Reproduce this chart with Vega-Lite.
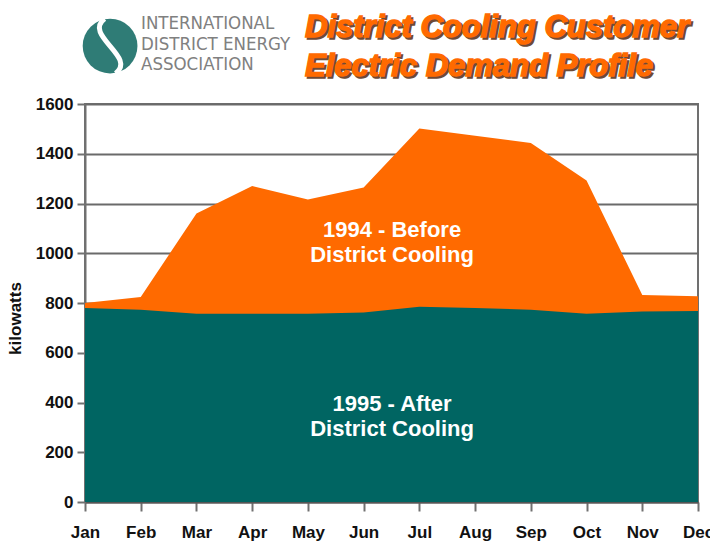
{
  "$schema": "https://vega.github.io/schema/vega-lite/v6.json",
  "width": 613,
  "height": 398,
  "autosize": {"type": "none"},
  "padding": {"left": 85, "top": 104, "right": 12, "bottom": 53},
  "background": "white",
  "config": {
    "font": "Liberation Sans",
    "view": {"stroke": "#707070", "strokeWidth": 2}
  },
  "datasets": {
    "demand": [
      {"month": 1, "y1994": 800, "y1995": 780},
      {"month": 2, "y1994": 824, "y1995": 773},
      {"month": 3, "y1994": 1160, "y1995": 757},
      {"month": 4, "y1994": 1270, "y1995": 757},
      {"month": 5, "y1994": 1216, "y1995": 757},
      {"month": 6, "y1994": 1264, "y1995": 762},
      {"month": 7, "y1994": 1502, "y1995": 785},
      {"month": 8, "y1994": 1472, "y1995": 780},
      {"month": 9, "y1994": 1443, "y1995": 773},
      {"month": 10, "y1994": 1292, "y1995": 757},
      {"month": 11, "y1994": 832, "y1995": 766},
      {"month": 12, "y1994": 827, "y1995": 768}
    ],
    "seriesLabels": [
      {"m": 6.51, "kW": 1065, "t": "1994 - Before"},
      {"m": 6.51, "kW": 965, "t": "District Cooling"},
      {"m": 6.51, "kW": 366, "t": "1995 - After"},
      {"m": 6.51, "kW": 265, "t": "District Cooling"}
    ],
    "heading": [
      {"m": 4.948, "kW": 1869, "t": "District Cooling Customer"},
      {"m": 4.948, "kW": 1713, "t": "Electric Demand Profile"}
    ],
    "association": [
      {"m": 2.005, "kW": 1926, "t": "INTERNATIONAL"},
      {"m": 2.005, "kW": 1841, "t": "DISTRICT ENERGY"},
      {"m": 2.005, "kW": 1761, "t": "ASSOCIATION"}
    ],
    "emblem": [{"m": 1.45, "kW": 1833}]
  },
  "layer": [
    {
      "data": {"name": "demand"},
      "mark": {"type": "area", "color": "#FF6A00", "interpolate": "linear"},
      "encoding": {
        "x": {
          "field": "month",
          "type": "quantitative",
          "scale": {"domain": [1, 12], "nice": false, "zero": false},
          "axis": {
            "title": null,
            "values": [1, 2, 3, 4, 5, 6, 7, 8, 9, 10, 11, 12],
            "labelExpr": "['Jan','Feb','Mar','Apr','May','Jun','Jul','Aug','Sep','Oct','Nov','Dec'][datum.value - 1]",
            "grid": false,
            "domainColor": "#555555",
            "domainWidth": 2,
            "tickColor": "#707070",
            "tickWidth": 2,
            "tickSize": 9,
            "labelFont": "Liberation Sans",
            "labelFontWeight": "bold",
            "labelFontSize": 17,
            "labelColor": "#111111",
            "labelPadding": 13,
            "labelFlush": false,
            "labelOverlap": false
          }
        },
        "y": {
          "field": "y1994",
          "type": "quantitative",
          "stack": null,
          "scale": {"domain": [0, 1600], "nice": false},
          "axis": {
            "title": "kilowatts",
            "titleFont": "Liberation Sans",
            "titleFontWeight": "bold",
            "titleFontSize": 17,
            "titleColor": "#111111",
            "titleAngle": 270,
            "titleX": -70,
            "titleY": 214,
            "titleAlign": "center",
            "titleBaseline": "middle",
            "values": [0, 200, 400, 600, 800, 1000, 1200, 1400, 1600],
            "format": "d",
            "grid": true,
            "gridColor": "#6a6a6a",
            "gridWidth": 2,
            "domainColor": "#707070",
            "domainWidth": 2,
            "tickColor": "#707070",
            "tickWidth": 2,
            "tickSize": 8,
            "labelFont": "Liberation Sans",
            "labelFontWeight": "bold",
            "labelFontSize": 17,
            "labelColor": "#111111",
            "labelPadding": 4
          }
        }
      }
    },
    {
      "data": {"name": "demand"},
      "mark": {"type": "area", "color": "#006562", "interpolate": "linear"},
      "encoding": {
        "x": {"field": "month", "type": "quantitative"},
        "y": {"field": "y1995", "type": "quantitative", "stack": null}
      }
    },
    {
      "data": {"name": "seriesLabels"},
      "mark": {"type": "text", "color": "white", "fontSize": 22, "fontWeight": "bold", "align": "center", "baseline": "alphabetic"},
      "encoding": {
        "x": {"field": "m", "type": "quantitative"},
        "y": {"field": "kW", "type": "quantitative"},
        "text": {"field": "t"}
      }
    },
    {
      "data": {"name": "heading"},
      "mark": {"type": "text", "color": "#6e4a36", "stroke": "#6e4a36", "strokeWidth": 1.6, "fontSize": 31, "fontWeight": "bold", "fontStyle": "italic", "align": "left", "baseline": "alphabetic", "dx": 2, "dy": 2},
      "encoding": {
        "x": {"field": "m", "type": "quantitative"},
        "y": {"field": "kW", "type": "quantitative"},
        "text": {"field": "t"}
      }
    },
    {
      "data": {"name": "heading"},
      "mark": {"type": "text", "color": "#FF6A00", "stroke": "#FF6A00", "strokeWidth": 1.4, "fontSize": 31, "fontWeight": "bold", "fontStyle": "italic", "align": "left", "baseline": "alphabetic"},
      "encoding": {
        "x": {"field": "m", "type": "quantitative"},
        "y": {"field": "kW", "type": "quantitative"},
        "text": {"field": "t"}
      }
    },
    {
      "data": {"name": "association"},
      "mark": {"type": "text", "color": "#808080", "font": "DejaVu Sans Condensed", "fontWeight": 300, "fontSize": 18.5, "align": "left", "baseline": "middle"},
      "encoding": {
        "x": {"field": "m", "type": "quantitative"},
        "y": {"field": "kW", "type": "quantitative"},
        "text": {"field": "t"}
      }
    },
    {
      "data": {"name": "emblem"},
      "mark": {"type": "point", "shape": "circle", "filled": true, "size": 3000, "color": "#2f7c76", "opacity": 1},
      "encoding": {
        "x": {"field": "m", "type": "quantitative"},
        "y": {"field": "kW", "type": "quantitative"}
      }
    },
    {
      "data": {"name": "emblem"},
      "mark": {"type": "point", "shape": "M -0.2 -1 C -1 -0.4 1 0.4 0.2 1", "filled": false, "size": 3000, "stroke": "white", "strokeWidth": 5, "opacity": 1},
      "encoding": {
        "x": {"field": "m", "type": "quantitative"},
        "y": {"field": "kW", "type": "quantitative"}
      }
    }
  ]
}
